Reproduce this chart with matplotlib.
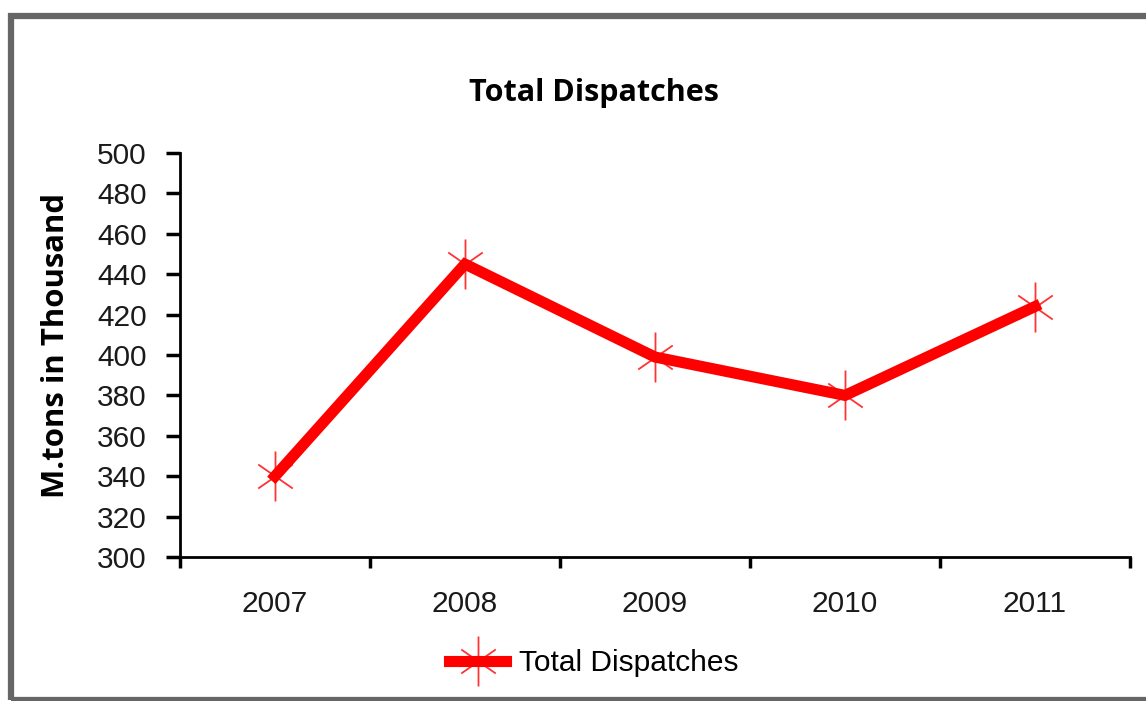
import matplotlib
matplotlib.use('Agg')
import matplotlib.pyplot as plt
from matplotlib.path import Path
from matplotlib.patches import Rectangle
from matplotlib.lines import Line2D

# ------------------------------------------------------------------
# data
# ------------------------------------------------------------------
years = ['2007', '2008', '2009', '2010', '2011']
dispatches = [340, 445, 399, 380, 424]
y_ticks = [300, 320, 340, 360, 380, 400, 420, 440, 460, 480, 500]

TITLE = 'Total Dispatches'
Y_LABEL = 'M.tons in Thousand'
SERIES = 'Total Dispatches'

W, H = 1146, 701
fig = plt.figure(figsize=(W / 100, H / 100), dpi=100)
fig.patch.set_facecolor('white')

# grey frame round the chart (pixel coords -> figure fraction)
def px(x, y):
    return x / W, 1 - y / H

x0, y0 = px(11, 700)
x1, y1 = px(1170, 16)
fig.patches.append(Rectangle((x0, y0), x1 - x0, y1 - y0, transform=fig.transFigure,
                             fill=False, edgecolor='#666666', linewidth=4.5))

ax = fig.add_axes([180 / W, 1 - 557 / H, (1130 - 180) / W, (557 - 153) / H])

# sparkle marker: long vertical spike + four shorter diagonals
verts = [(0, -1), (0, 1),
         (-0.69, 0.48), (0.69, -0.48),
         (-0.69, -0.48), (0.69, 0.48)]
codes = [Path.MOVETO, Path.LINETO] * 3
sparkle = Path(verts, codes)

xs = list(range(1, len(years) + 1))
ax.plot(xs, dispatches, color='#ff0000', linewidth=8, solid_joinstyle='miter',
        marker=sparkle, markersize=36, markeredgewidth=1.3,
        markeredgecolor=(1, 0, 0, 0.8), markerfacecolor='none', zorder=3)

ax.set_xlim(0.5, len(years) + 0.5)
ax.set_ylim(300, 500)
ax.set_yticks(y_ticks)
ax.set_yticklabels([str(v) for v in y_ticks], fontsize=21.5, family='Liberation Sans',
                   color='#1a1a1a')

# category boundaries as major ticks, labels on minor ticks
ax.set_xticks([i + 0.5 for i in range(len(years) + 1)])
ax.set_xticklabels([])
ax.set_xticks(xs, minor=True)
ax.set_xticklabels(years, minor=True, fontsize=21.5, family='Liberation Sans',
                   color='#1a1a1a')
ax.tick_params(axis='x', which='major', direction='out', length=8, width=2.5, color='black')
ax.tick_params(axis='x', which='minor', length=0, pad=24)
ax.tick_params(axis='y', direction='out', length=10, width=2.5, color='black', pad=14)

for s in ['top', 'right']:
    ax.spines[s].set_visible(False)
for s in ['left', 'bottom']:
    ax.spines[s].set_linewidth(2)
    ax.spines[s].set_color('black')

fig.text(594 / W, 1 - 93 / H, TITLE, ha='center', va='center', fontsize=22,
         fontweight='bold', family='Open Sans')
fig.text(56 / W, 1 - 346 / H, Y_LABEL, ha='center', va='center', rotation=90,
         fontsize=22.4, fontweight='bold', family='Open Sans')

handle = Line2D([], [], color='#ff0000', linewidth=8, marker=sparkle, markersize=36,
                markeredgewidth=1.3, markeredgecolor=(1, 0, 0, 0.8))
fig.legend([handle], [SERIES], loc='center', bbox_to_anchor=(594 / W, 1 - 663 / H),
           frameon=False, prop={'family': 'Liberation Sans', 'size': 21.5},
           handlelength=1.9, handletextpad=0.45)

fig.savefig('out.png', dpi=100)
